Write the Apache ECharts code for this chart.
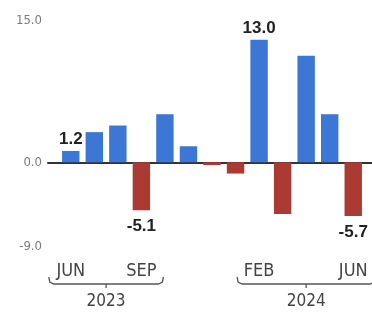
<!DOCTYPE html>
<html><head><meta charset="utf-8">
<script src="https://cdn.jsdelivr.net/npm/echarts@6/dist/echarts.min.js"></script>
<style>html,body{margin:0;padding:0;background:#fff}#c{width:372px;height:315px}</style>
</head><body><div id="c"></div>
<script>
var months = ['JUN 2023','JUL 2023','AUG 2023','SEP 2023','OCT 2023','NOV 2023','DEC 2023','JAN 2024','FEB 2024','MAR 2024','APR 2024','MAY 2024','JUN 2024'];
var values = [1.2, 3.2, 3.9, -5.1, 5.1, 1.7, -0.3, -1.2, 13.0, -5.5, 11.3, 5.1, -5.7];
var tickLabels = ['JUN','','','SEP','','','','','FEB','','','','JUN'];
var labeledIdx = [0, 3, 8, 12];
var yTicks = [-9, 0, 15];
var years = [{text:'2023', from:0, to:3}, {text:'2024', from:8, to:12}];

var chart = echarts.init(document.getElementById('c'));
var fontN = '"Liberation Sans Narrow","DejaVu Sans Condensed",sans-serif';
chart.setOption({
  animation:false,
  grid:[{left:59,right:7,top:21,bottom:68},{left:48,right:0,top:21,bottom:68}],
  xAxis:[{
    type:'category', data:months, gridIndex:0,
    axisLine:{show:false,onZero:false}, axisTick:{show:false},
    axisLabel:{interval:0, margin:15, color:'#444', fontSize:18, fontFamily:fontN,
      formatter:function(v,i){return tickLabels[i];}}
  },{
    type:'value', gridIndex:1, min:0, max:1, show:true,
    axisLine:{show:true,onZero:true,lineStyle:{color:'#333',width:2}},
    axisTick:{show:false}, axisLabel:{show:false}, splitLine:{show:false}
  }],
  yAxis:[{
    type:'value', gridIndex:0, min:-9, max:15, show:false
  },{
    type:'value', gridIndex:1, min:-9, max:15,
    axisLine:{show:false}, axisTick:{show:false}, splitLine:{show:false},
    axisLabel:{customValues:yTicks, margin:6, color:'#7a7a7a', fontSize:13, fontFamily:fontN,
      formatter:function(v){return v.toFixed(1);}}
  }],
  series:[{
    type:'bar', xAxisIndex:0, yAxisIndex:0, barWidth:'74%',
    data:values.map(function(v,i){
      return {value:v,
        itemStyle:{color: v>=0 ? '#3c77d5' : '#ab3a33'},
        label:{show: labeledIdx.indexOf(i)>=0, distance: v>=0 ? 3 : 8}};
    }),
    label:{position:'outside', fontWeight:'bold', fontSize:17, color:'#222',
      fontFamily:'"Liberation Sans","DejaVu Sans",sans-serif',
      formatter:function(p){return p.value.toFixed(1);}}
  }]
});

// year brackets
var els = [];
years.forEach(function(y){
  var x1 = chart.convertToPixel({xAxisIndex:0}, y.from) - 22;
  var x2 = chart.convertToPixel({xAxisIndex:0}, y.to) + 22;
  var by = 284;
  var mid = (x1+x2)/2;
  els.push({type:'polyline', shape:{points:[[x1,by-7],[x1+1,by-2],[x1+5,by],[x2-5,by],[x2-1,by-2],[x2,by-7]]},
    style:{stroke:'#555',lineWidth:1.3,fill:null}});
  els.push({type:'line', shape:{x1:mid,y1:by,x2:mid,y2:by+4}, style:{stroke:'#555',lineWidth:1.3}});
  els.push({type:'text', style:{text:y.text, x:mid, y:by+9, textAlign:'center', textVerticalAlign:'top',
    fontSize:17, fontFamily:fontN, fill:'#444'}});
});
chart.setOption({graphic:els});
</script></body></html>
